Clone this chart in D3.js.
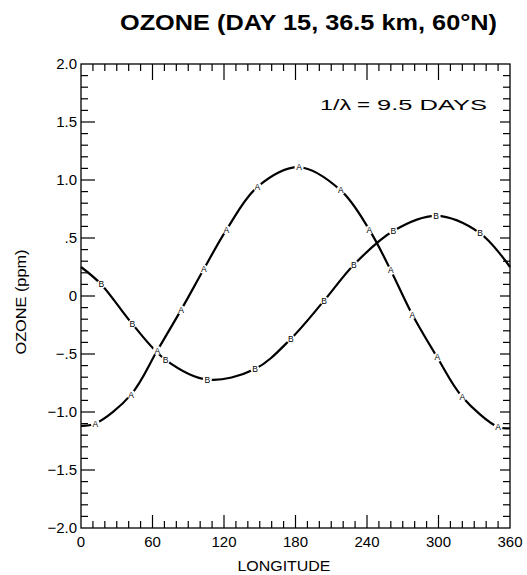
<!DOCTYPE html>
<html>
<head>
<meta charset="utf-8">
<script src="https://cdn.jsdelivr.net/npm/d3@7"></script>
<style>
  html, body { margin: 0; padding: 0; background: #fff; }
  svg { display: block; font-family: "Liberation Sans", Arial, Helvetica, sans-serif; }
</style>
</head>
<body>
<svg id="chart" width="527" height="575"></svg>
<script>
// ---- data ----
const xTickValues = [0, 60, 120, 180, 240, 300, 360];
const xTickLabels = ["0", "60", "120", "180", "240", "300", "360"];
const yTickValues = [-2.0, -1.5, -1.0, -0.5, 0, 0.5, 1.0, 1.5, 2.0];
const yTickLabels = ["\u22122.0", "\u22121.5", "\u22121.0", "\u2212.5", "0", ".5", "1.0", "1.5", "2.0"];

// curve A: end points and labelled points
const endLonA = [0, 360];
const endOzoneA = [-1.12, -1.14];
const markLonA = [12, 42, 64, 84, 103, 122, 148, 183, 218, 242, 260, 278, 299, 320, 350];
const markOzoneA = [-1.10, -0.85, -0.47, -0.12, 0.23, 0.57, 0.94, 1.11, 0.91, 0.57, 0.22, -0.16, -0.53, -0.87, -1.13];

// curve B
const endLonB = [0, 360];
const endOzoneB = [0.25, 0.25];
const markLonB = [17, 43, 71, 106, 146, 176, 204, 229, 262, 298, 335];
const markOzoneB = [0.10, -0.24, -0.55, -0.72, -0.63, -0.37, -0.04, 0.27, 0.56, 0.69, 0.54];

const titleText = "OZONE (DAY 15, 36.5 km, 60\u00B0N)";
const xLabel = "LONGITUDE";
const yLabel = "OZONE (ppm)";

// ---- layout ----
const svg = d3.select("#chart");
const pLeft = 81, pRight = 510, pTop = 64, pBottom = 528;
const x = d3.scaleLinear().domain([0, 360]).range([pLeft, pRight]);
const y = d3.scaleLinear().domain([-2, 2]).range([pBottom, pTop]);

// frame
svg.append("rect").attr("x", pLeft).attr("y", pTop)
  .attr("width", pRight - pLeft).attr("height", pBottom - pTop)
  .attr("fill", "none").attr("stroke", "#000").attr("stroke-width", 1.3);

// minor / major ticks
const xMinor = d3.range(0, 361, 10);
const yMinor = d3.range(-20, 21, 1).map(d => d / 10);
const isMajX = d => d % 60 === 0;
const isMajY = d => Math.abs(d * 2 - Math.round(d * 2)) < 1e-6;

const g = svg.append("g").attr("stroke", "#000").attr("stroke-width", 1.2);
xMinor.forEach(d => {
  if (d === 0 || d === 360) return;
  const lb = isMajX(d) ? 13 : 7;
  const lt = isMajX(d) ? 16 : 7;
  g.append("line").attr("x1", x(d)).attr("x2", x(d)).attr("y1", pBottom).attr("y2", pBottom - lb);
  g.append("line").attr("x1", x(d)).attr("x2", x(d)).attr("y1", pTop).attr("y2", pTop + lt);
});
yMinor.forEach(d => {
  if (d === -2 || d === 2) return;
  const ll = isMajY(d) ? 14 : 7;
  const lr = isMajY(d) ? 10 : 7;
  g.append("line").attr("x1", pLeft).attr("x2", pLeft + ll).attr("y1", y(d)).attr("y2", y(d));
  g.append("line").attr("x1", pRight).attr("x2", pRight - lr).attr("y1", y(d)).attr("y2", y(d));
});

// tick labels
svg.append("g").selectAll("text").data(xTickValues).join("text")
  .attr("x", d => x(d)).attr("y", 547)
  .attr("text-anchor", "middle").attr("font-size", 15)
  .text((d, i) => xTickLabels[i]);
svg.append("g").selectAll("text").data(yTickValues).join("text")
  .attr("x", 77).attr("y", d => y(d) + 5)
  .attr("text-anchor", "end").attr("font-size", 15)
  .text((d, i) => yTickLabels[i]);

// axis labels
svg.append("text").attr("x", 284).attr("y", 571).attr("text-anchor", "middle")
  .attr("font-size", 14).attr("textLength", 93).attr("lengthAdjust", "spacingAndGlyphs")
  .text(xLabel);
svg.append("text").attr("transform", "translate(26,302) rotate(-90)")
  .attr("text-anchor", "middle").attr("font-size", 15)
  .attr("textLength", 105).attr("lengthAdjust", "spacingAndGlyphs")
  .text(yLabel);

// title
svg.append("text").attr("x", 120).attr("y", 30)
  .attr("font-size", 22).attr("font-weight", "bold")
  .attr("textLength", 377).attr("lengthAdjust", "spacingAndGlyphs")
  .text(titleText);

// annotation
const ann = svg.append("g").attr("font-size", 15);
ann.append("text").attr("x", 320).attr("y", 110).attr("textLength", 31).attr("lengthAdjust", "spacingAndGlyphs").text("1/\u03BB");
ann.append("text").attr("x", 357).attr("y", 110).attr("textLength", 13).attr("lengthAdjust", "spacingAndGlyphs").text("=");
ann.append("text").attr("x", 377).attr("y", 110).attr("textLength", 110).attr("lengthAdjust", "spacingAndGlyphs").text("9.5 DAYS");

// curves
function series(endLon, endOz, markLon, markOz) {
  const pts = endLon.map((d, i) => ({ lon: d, v: endOz[i] }))
    .concat(markLon.map((d, i) => ({ lon: d, v: markOz[i] })));
  pts.sort((a, b) => a.lon - b.lon);
  return pts;
}
const line = d3.line().x(d => x(d.lon)).y(d => y(d.v)).curve(d3.curveCatmullRom.alpha(0.5));

const curves = [
  { name: "A", pts: series(endLonA, endOzoneA, markLonA, markOzoneA), marks: markLonA.map((d, i) => ({ lon: d, v: markOzoneA[i] })) },
  { name: "B", pts: series(endLonB, endOzoneB, markLonB, markOzoneB), marks: markLonB.map((d, i) => ({ lon: d, v: markOzoneB[i] })) }
];

curves.forEach(c => {
  svg.append("path").datum(c.pts).attr("d", line)
    .attr("fill", "none").attr("stroke", "#000").attr("stroke-width", 2.2);
});
curves.forEach(c => {
  const mg = svg.append("g");
  mg.selectAll("circle").data(c.marks).join("circle")
    .attr("cx", d => x(d.lon)).attr("cy", d => y(d.v)).attr("r", 4.5).attr("fill", "#fff");
  mg.selectAll("text").data(c.marks).join("text")
    .attr("x", d => x(d.lon)).attr("y", d => y(d.v) + 3)
    .attr("text-anchor", "middle").attr("font-size", 8.5)
    .text(c.name);
});
</script>
</body>
</html>
